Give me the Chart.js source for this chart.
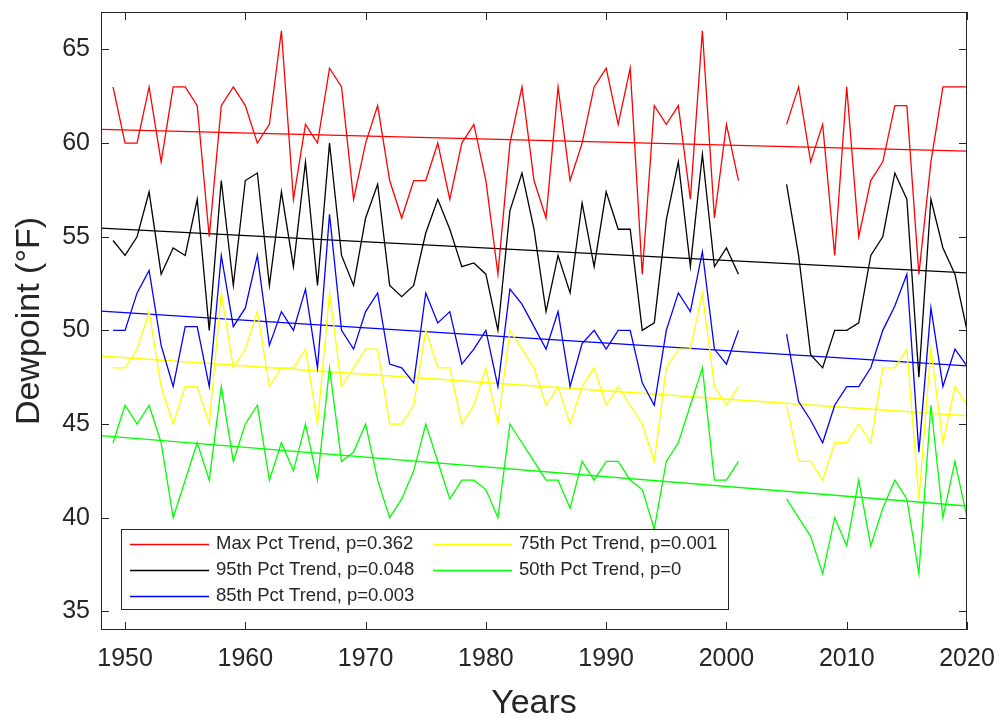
<!DOCTYPE html>
<html>
<head>
<meta charset="utf-8">
<script src="https://cdn.jsdelivr.net/npm/chart.js@4.4.1/dist/chart.umd.min.js"></script>
<style>
  body { margin: 0; background: #fff; }
  #wrap { width: 1001px; height: 725px; }
</style>
</head>
<body>
<div id="wrap"><canvas id="myChart" width="1001" height="725"></canvas></div>
<script>
"use strict";

// years 1949-2020, no data for 2002-2004
const years = [];
for (let yr = 1949; yr <= 2020; yr++) years.push(yr);

const maxPct = [
  63, 60, 60, 63, 59, 63, 63, 62, 55, 62,
  63, 62, 60, 61, 66, 57, 61, 60, 64, 63,
  57, 60, 62, 58, 56, 58, 58, 60, 57, 60,
  61, 58, 53, 60, 63, 58, 56, 63, 58, 60,
  63, 64, 61, 64, 53, 62, 61, 62, 57, 66,
  56, 61, 58, null, null, null,
  61, 63, 59, 61, 54, 63, 55, 58, 59, 62, 62, 53, 59, 63, 63, 63,
];
const pct95 = [
  54.8, 54, 55, 57.4, 53, 54.4, 54, 57, 50, 58,
  52.4, 58, 58.4, 52.4, 57.4, 53.4, 59, 52.4, 60, 54,
  52.4, 56, 57.8, 52.4, 51.8, 52.4, 55.2, 57, 55.4, 53.4,
  53.6, 53, 50, 56.4, 58.4, 55.4, 51, 54, 52, 56.8,
  53.4, 57.4, 55.4, 55.4, 50, 50.4, 55.9, 59, 53.4, 59.4,
  53.4, 54.4, 53, null, null, null,
  57.8, 54, 48.7, 48, 50, 50, 50.4, 54, 55, 58.4, 57, 47.5, 57, 54.4, 53, 50,
];
const pct85 = [
  50, 50, 52, 53.2, 49.2, 47, 50.2, 50.2, 47, 54,
  50.2, 51.2, 54, 49.2, 51, 50, 52.2, 48, 56.2, 50,
  49, 51, 52, 48.2, 48, 47.2, 52, 50.4, 51, 48.2,
  49, 50, 47, 52.2, 51.4, 50.2, 49, 51, 47, 49.3,
  50, 49, 50, 50, 47.2, 46, 50, 52, 51, 54.2,
  49, 48.2, 50, null, null, null,
  49.8, 46.2, 45.2, 44, 46, 47, 47, 48, 50, 51.3, 53, 43.5, 51.2, 47, 49, 48.1,
];
const pct75 = [
  48, 48, 49, 51, 47, 45, 47, 47, 45, 52,
  48, 49, 51, 47, 48, 48, 49, 45, 52, 47,
  48, 49, 49, 45, 45, 46, 50, 48, 48, 45,
  46, 48, 45, 50, 49, 48, 46, 47, 45, 47,
  48, 46, 47, 46, 45, 43, 48, 49, 49, 52,
  47, 46, 47, null, null, null,
  46, 43, 43, 42, 44, 44, 45, 44, 48, 48, 49, 41, 49, 44, 47, 46,
];
const pct50 = [
  44, 46, 45, 46, 44, 40, 42, 44, 42, 47,
  43, 45, 46, 42, 44, 42.5, 45, 42, 48, 43,
  43.5, 45, 42, 40, 41, 42.5, 45, 43, 41, 42,
  42, 41.5, 40, 45, 44, 43, 42, 42, 40.5, 43,
  42, 43, 43, 42, 41.5, 39.4, 43, 44, 46, 48,
  42, 42, 43, null, null, null,
  41, 40, 39, 37, 40, 38.5, 42, 38.5, 40.5, 42, 41, 37, 46, 40, 43, 40,
];

// linear trend lines, value at left (1948) and right (2020) edge
const trendLabels = [
  "Max Pct Trend, p=0.362",
  "95th Pct Trend, p=0.048",
  "85th Pct Trend, p=0.003",
  "75th Pct Trend, p=0.001",
  "50th Pct Trend, p=0",
];
const trendStart = [60.73, 55.46, 51.03, 48.63, 44.38];
const trendEnd = [59.57, 53.07, 48.1, 45.44, 40.62];

const xTicks = [1950, 1960, 1970, 1980, 1990, 2000, 2010, 2020];
const yTicks = [35, 40, 45, 50, 55, 60, 65];
const xMin = 1948, xMax = 2020, yMin = 34, yMax = 67;

const colors = ["#ff0000", "#000000", "#0000ff", "#ffff00", "#00ff00"];
const axisColor = "#262626";
const fontFamily = "'Liberation Sans', Arial, sans-serif";

const series = [maxPct, pct95, pct85, pct75, pct50];
const datasets = [];
series.forEach((vals, i) => {
  datasets.push({
    label: "data" + i,
    data: vals,
    borderColor: colors[i],
    borderWidth: 1.3,
    pointRadius: 0,
    tension: 0,
    spanGaps: false,
  });
});
trendLabels.forEach((lab, i) => {
  datasets.push({
    label: lab,
    isTrend: true,
    data: [{ x: xMin, y: trendStart[i] }, { x: xMax, y: trendEnd[i] }],
    borderColor: colors[i],
    borderWidth: 1.3,
    pointRadius: 0,
  });
});

// box around the axes with inward ticks, like the original figure
const framePlugin = {
  id: "frame",
  afterDatasetsDraw(chart) {
    const { ctx, chartArea: a, scales } = chart;
    const len = 8;
    ctx.save();
    ctx.strokeStyle = axisColor;
    ctx.lineWidth = 1;
    ctx.beginPath();
    xTicks.forEach((v) => {
      const px = Math.round(scales.x.getPixelForValue(v)) + 0.5;
      ctx.moveTo(px, a.bottom);
      ctx.lineTo(px, a.bottom - len);
      ctx.moveTo(px, a.top);
      ctx.lineTo(px, a.top + len);
    });
    yTicks.forEach((v) => {
      const py = Math.round(scales.y.getPixelForValue(v)) + 0.5;
      ctx.moveTo(a.left, py);
      ctx.lineTo(a.left + len, py);
      ctx.moveTo(a.right, py);
      ctx.lineTo(a.right - len, py);
    });
    ctx.stroke();
    ctx.strokeRect(a.left + 0.5, a.top + 0.5, a.width - 1, a.height - 1);
    ctx.restore();
  },
  afterDraw(chart) {
    // legend box, two columns filled top-down
    const { ctx, chartArea: a } = chart;
    const trends = chart.data.datasets.filter((d) => d.isTrend);
    const bx = a.left + 20, by = a.bottom - 101, bw = 607, bh = 80;
    ctx.save();
    ctx.fillStyle = "#fff";
    ctx.fillRect(bx, by, bw, bh);
    ctx.strokeStyle = axisColor;
    ctx.lineWidth = 1;
    ctx.strokeRect(bx + 0.5, by + 0.5, bw, bh);
    ctx.font = "18.5px " + fontFamily;
    ctx.textBaseline = "middle";
    ctx.textAlign = "left";
    trends.forEach((d, i) => {
      const col = Math.floor(i / 3), row = i % 3;
      const lx = bx + 9 + col * 303;
      const ly = by + 15 + row * 26;
      ctx.strokeStyle = d.borderColor;
      ctx.lineWidth = 1.3;
      ctx.beginPath();
      ctx.moveTo(lx, ly + 0.5);
      ctx.lineTo(lx + 79, ly + 0.5);
      ctx.stroke();
      ctx.fillStyle = axisColor;
      ctx.fillText(d.label, lx + 86, ly);
    });
    ctx.restore();
  },
};

const myChart = new Chart("myChart", {
  type: "line",
  data: { labels: years, datasets: datasets },
  options: {
    responsive: false,
    animation: false,
    devicePixelRatio: 1,
    layout: { padding: { top: 12, right: 34, left: 0, bottom: 0 } },
    plugins: {
      legend: { display: false },
      tooltip: { enabled: false },
      title: { display: false },
    },
    scales: {
      x: {
        type: "linear",
        min: xMin,
        max: xMax,
        afterBuildTicks: (scale) => {
          scale.ticks = xTicks.map((v) => ({ value: v }));
        },
        afterFit: (scale) => {
          scale.height = 95;
          scale.paddingLeft = scale.paddingRight = 0;
        },
        grid: { display: false, drawTicks: false },
        border: { display: false },
        ticks: {
          color: axisColor,
          padding: 14,
          maxRotation: 0,
          font: { family: fontFamily, size: 25 },
          callback: (v) => String(v),
        },
        title: {
          display: true,
          text: "Years",
          color: axisColor,
          font: { family: fontFamily, size: 34 },
          padding: { bottom: 1 },
        },
      },
      y: {
        type: "linear",
        min: yMin,
        max: yMax,
        afterBuildTicks: (scale) => {
          scale.ticks = yTicks.map((v) => ({ value: v }));
        },
        afterFit: (scale) => {
          scale.width = 101;
          scale.paddingTop = scale.paddingBottom = 0;
        },
        grid: { display: false, drawTicks: false },
        border: { display: false },
        ticks: {
          color: axisColor,
          padding: 11,
          font: { family: fontFamily, size: 25 },
          callback: (v) => String(v),
        },
        title: {
          display: true,
          text: "Dewpoint (°F)",
          color: axisColor,
          font: { family: fontFamily, size: 34 },
          padding: { top: 9 },
        },
      },
    },
  },
  plugins: [framePlugin],
});
</script>
</body>
</html>
